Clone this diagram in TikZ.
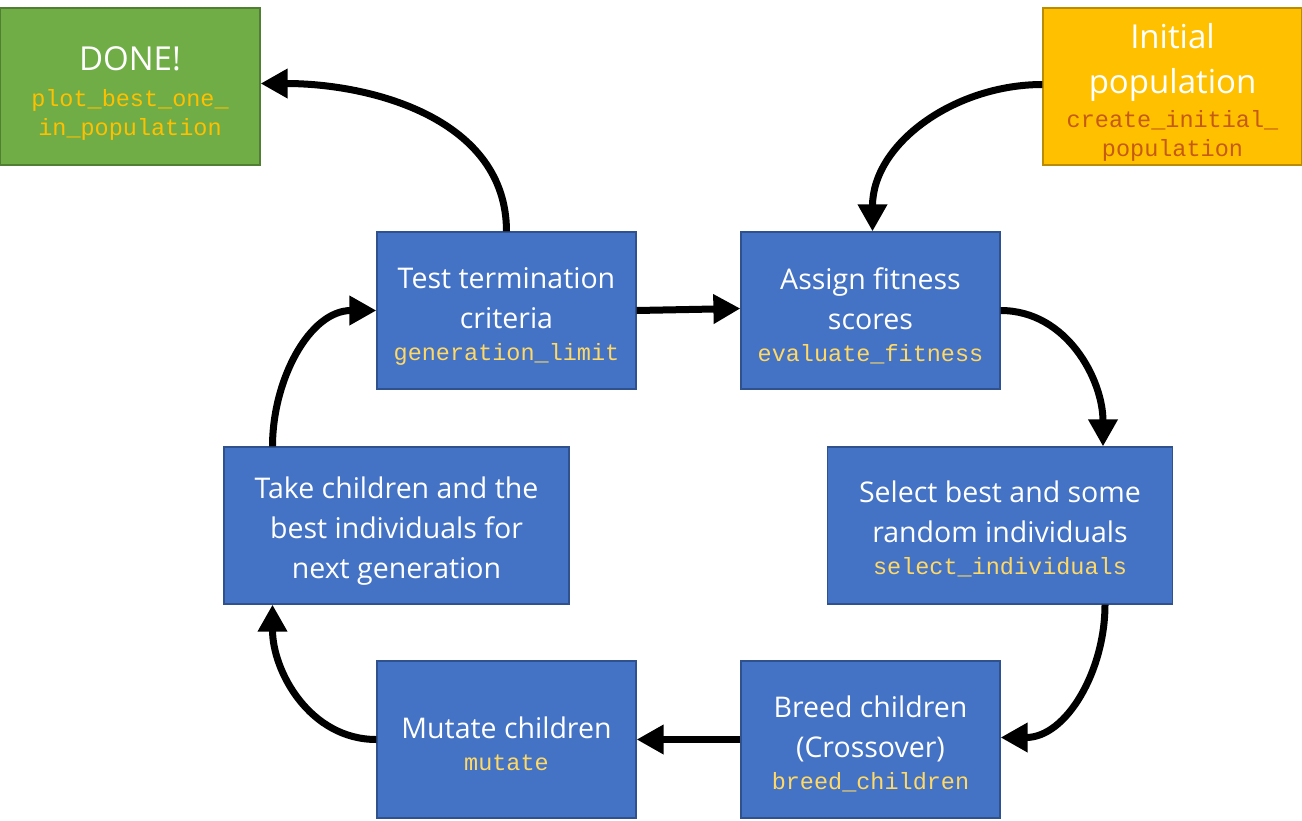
\documentclass[tikz,border=0pt]{standalone}
\usepackage{fontspec}
\setmainfont{Open Sans}
\setmonofont{Liberation Mono}
\usetikzlibrary{arrows.meta}
\definecolor{boxblue}{HTML}{4472C4}
\definecolor{boxblueline}{HTML}{2F528F}
\definecolor{boxgreen}{HTML}{70AD47}
\definecolor{boxgreenline}{HTML}{507E32}
\definecolor{boxorange}{HTML}{FFC000}
\definecolor{boxorangeline}{HTML}{BC8C00}
\definecolor{codeyellow}{HTML}{FFD966}
\definecolor{codegold}{HTML}{FFC000}
\definecolor{codebrown}{HTML}{C55A11}
\tikzset{
  stepbox/.style = {rectangle, draw=boxblueline, line width=1.2pt, fill=boxblue, text=white,
    minimum width=259pt, minimum height=157pt, align=center, inner sep=0pt,
    font=\fontsize{28.5}{40}\selectfont},
  widebox/.style = {stepbox, minimum width=345pt},
  endbox/.style = {stepbox, draw=boxgreenline, fill=boxgreen, minimum width=260pt,
    font=\fontsize{33}{45}\selectfont},
  startbox/.style = {stepbox, draw=boxorangeline, fill=boxorange,
    font=\fontsize{33}{45}\selectfont},
  arrow/.style = {line width=7pt, -{Triangle[length=27pt,width=28pt]}},
}
\newcommand{\code}[2]{{\color{#1}\ttfamily\fontsize{23.5}{29}\selectfont #2}}
\newcommand{\headroom}[1]{\rule{0pt}{#1}}
\begin{document}
\begin{tikzpicture}[x=1pt, y=-1pt]
  \useasboundingbox (0,0) rectangle (1302,820);
  \node (done) [endbox] at (130,86.5) {\headroom{38pt}DONE!\\[-9pt]\code{codegold}{plot\_best\_one\_}\\[-16pt]\code{codegold}{in\_population}};
  \node (init) [startbox] at (1172.5,86.5) {\headroom{36pt}Initial\\population\\[-11pt]\code{codebrown}{create\_initial\_}\\[-16pt]\code{codebrown}{population}};
  \node (test) [stepbox] at (506.5,310.5) {\headroom{33pt}Test termination\\criteria\\[-8pt]\code{codeyellow}{generation\_limit}};
  \node (assign) [stepbox] at (870.5,310.5) {\headroom{33pt}Assign fitness\\scores\\[-8pt]\code{codeyellow}{evaluate\_fitness}};
  \node (select) [widebox] at (1000,525.5) {\headroom{29pt}Select best and some\\random individuals\\[-8pt]\code{codeyellow}{select\_individuals}};
  \node (take) [widebox] at (396.5,525.5) {\headroom{32pt}Take children and the\\best individuals for\\next generation};
  \node (mutate) [stepbox] at (506.5,739.5) {\headroom{31pt}Mutate children\\[-8pt]\code{codeyellow}{mutate}};
  \node (breed) [stepbox] at (870.5,739.5) {\headroom{31pt}Breed children\\(Crossover)\\[-8pt]\code{codeyellow}{breed\_children}};

  \draw[arrow] (test.north) to[out=90, in=0] ([yshift=3pt]done.east);
  \draw[arrow] ([yshift=2pt]init.west) to[out=180, in=90] ([xshift=2pt]assign.north);
  \draw[arrow] (test.east) -- ([yshift=2pt]assign.west);
  \draw[arrow] (assign.east) to[out=0, in=90] ([xshift=103pt]select.north);
  \draw[arrow] ([xshift=105pt]select.south) to[out=-90, in=0] ([yshift=2pt]breed.east);
  \draw[arrow] (breed.west) -- (mutate.east);
  \draw[arrow] (mutate.west) to[out=180, in=-90] ([xshift=-124pt]take.south);
  \draw[arrow] ([xshift=-124pt]take.north) to[out=90, in=180] (test.west);
\end{tikzpicture}
\end{document}
